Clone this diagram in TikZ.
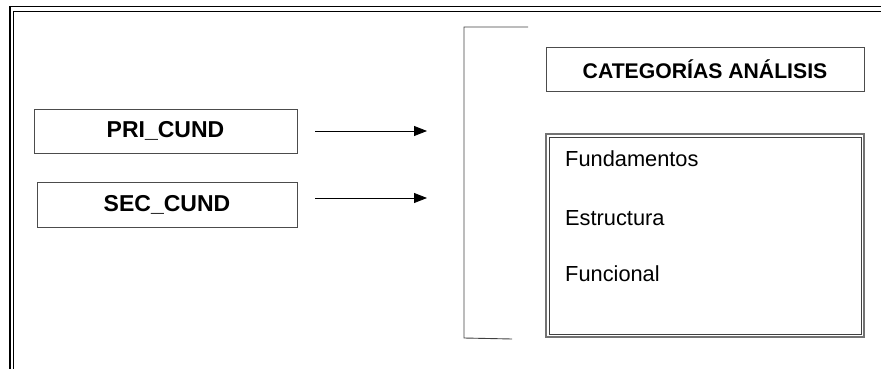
\documentclass[tikz,border=0pt]{standalone}
\usepackage{fontspec}
\setmainfont{Liberation Sans}
\usetikzlibrary{arrows.meta}
\begin{document}
\begin{tikzpicture}[x=1pt,y=-1pt,
    cundbox/.style={draw=black!70,line width=0.8pt,inner sep=0pt,font=\fontsize{23}{27}\selectfont\bfseries},
    catbox/.style={draw=black!70,line width=0.8pt,inner sep=0pt,font=\fontsize{21.2}{25}\selectfont\bfseries},
    listbox/.style={draw=black!55,line width=1.1pt,inner sep=0pt},
    item/.style={anchor=west,inner sep=0pt,font=\fontsize{21.8}{26}\selectfont},
    link/.style={line width=0.8pt,-{Triangle[length=13pt,width=10pt]}}]
  \useasboundingbox (0,0) rectangle (881,369);
  % page frame
  \draw[line width=1.8pt] (10,369) -- (10,6.5) -- (881,6.5);
  \draw[line width=0.8pt] (13.5,369) -- (13.5,11) -- (881,11);
  % left boxes
  \node[cundbox,minimum width=263pt,minimum height=44pt] (pri) at (165.5,131) {PRI\_CUND};
  \node[cundbox,minimum width=260pt,minimum height=45pt] (sec) at (167,204.5) {SEC\_CUND};
  \coordinate (pritip) at (427,131);
  \coordinate (sectip) at (427,198);
  \draw[link] (315,131) -- (pritip);
  \draw[link] (315,198) -- (sectip);
  % bracket
  \draw[black!75,line width=0.9pt] (528,27) -- (464,27) -- (464,338) -- (512,339);
  % right boxes
  \node[catbox,minimum width=318pt,minimum height=44pt] (cat) at (705,69) {CATEGORÍAS ANÁLISIS};
  \node[listbox,minimum width=318pt,minimum height=203pt] (lst) at (705,235.5) {};
  \draw[black!75,line width=0.8pt] ([shift={(3.5pt,-3.5pt)}]lst.north west) rectangle ([shift={(-3.5pt,3.5pt)}]lst.south east);
  \node[item] (fund) at (565,159) {Fundamentos};
  \node[item] (estr) at (565,218) {Estructura};
  \node[item] (func) at (565,274) {Funcional};
\end{tikzpicture}
\end{document}
